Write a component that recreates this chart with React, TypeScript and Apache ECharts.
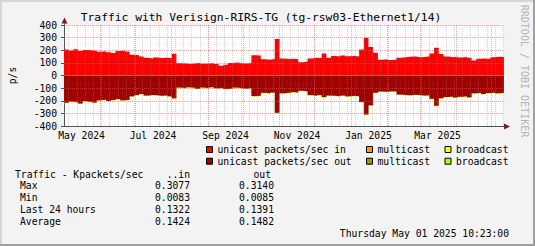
import React, { useEffect, useRef } from "react";
import * as echarts from "echarts";

const START = Date.UTC(2024, 4, 1);
const DAY = 86400000;
const STEP_DAYS = 4;
const END_DAYS = 375.7;

const inUnicast = [
  205, 198, 208, 195, 202, 200, 196,
  188, 192, 185, 178,
  195, 198, 190,
  165, 160, 150,
  140, 135, 142, 138, 140, 136,
  172,
  98, 95, 92, 96, 100, 94, 96, 98, 92,
  78, 85,
  100, 102, 98, 96, 100,
  160, 158,
  128, 125, 130,
  290,
  135, 130, 133, 128,
  105, 110,
  135, 140, 138,
  175,
  140,
  155, 150, 158, 152, 155, 150,
  205, 300, 225, 180,
  125, 128, 122, 126,
  140, 145, 148, 150, 145, 147, 150,
  175, 220, 170,
  150, 145, 148, 142, 146, 140,
  118,
  132, 135, 130,
  145, 148, 146,
];
const inMulticast: number[] = [];
const inBroadcast: number[] = [];

const outUnicast = [
  216, 206, 211, 221, 201, 208, 214,
  196, 191, 201, 194, 186, 196, 192,
  164, 155, 146,
  158, 154, 156, 161, 156, 164,
  181,
  96, 101, 94, 98, 104, 96, 100, 94, 101,
  98, 106, 102, 96, 100, 104, 99,
  163, 161,
  136, 141, 134,
  296,
  141, 136, 131, 134,
  121, 124,
  155, 160, 154, 170, 158,
  161, 164, 158, 165, 161, 164,
  210, 309, 235, 136,
  126, 128, 124, 126,
  151, 154, 156, 152, 154, 158, 156,
  185, 240, 181,
  171, 166, 175, 168, 164, 173,
  141, 136, 146, 138, 134, 141, 136,
];
const outMulticast: number[] = [];
const outBroadcast = [
  4, 5, 4, 3, 5, 4, 4,
  5, 4, 3, 4, 5, 4, 4,
  6, 5, 4,
  4, 4, 5, 4, 4, 4,
  5,
  4, 4, 5, 4, 4, 4, 5, 4, 4,
  4, 4, 4, 5, 4, 4, 4,
  5, 4,
  4, 4, 4,
  5,
  4, 4, 4, 4,
  4, 4,
  5, 4, 5, 6, 4,
  4, 5, 4, 5, 4, 4,
  5, 6, 5, 4,
  4, 4, 4, 4,
  4, 4, 5, 4, 4, 4, 4,
  5, 6, 4,
  4, 5, 4, 4, 4, 5,
  4, 4, 4, 4, 4, 4, 4,
];

const monthStarts = [
  "2024-06-01", "2024-07-01", "2024-08-01", "2024-09-01", "2024-10-01",
  "2024-11-01", "2024-12-01", "2025-01-01", "2025-02-01", "2025-03-01",
  "2025-04-01", "2025-05-01",
];
const firstWeekLine = "2024-05-05";
const xLabelTexts = ["May 2024", "Jul 2024", "Sep 2024", "Nov 2024", "Jan 2025", "Mar 2025"];
const xLabelDates = ["2024-05-16", "2024-07-16", "2024-09-16", "2024-11-16", "2025-01-16", "2025-03-16"];
const yGridValues = [-300, -200, -100, 0, 100, 200, 300, 400];

const legendNames = [
  "unicast packets/sec in", "multicast in", "broadcast in",
  "unicast packets/sec out", "multicast out", "broadcast out",
];
const legendLabels = [
  "unicast packets/sec in", "multicast", "broadcast",
  "unicast packets/sec out", "multicast", "broadcast",
];
const seriesColors = ["#FF0000", "#FF9900", "#FFFF00", "#A00000", "#999900", "#AAFF00"];

const statsTitle = "Traffic - Kpackets/sec";
const statsHeadIn = "..in";
const statsHeadOut = "out";
const statsRows = ["Max", "Min", "Last 24 hours", "Average"];
const statsIn = ["0.3077", "0.0083", "0.1322", "0.1424"];
const statsOut = ["0.3140", "0.0085", "0.1391", "0.1482"];
const stamp = "Thursday May 01 2025 10:23:00";
const title = "Traffic with Verisign-RIRS-TG (tg-rsw03-Ethernet1/14)";
const watermark = "RRDTOOL / TOBI OETIKER";

const MONO = '"DejaVu Sans Mono", monospace';
const FS = 9.7;

const dayOf = (s: string) => (Date.parse(s + "T00:00:00Z") - START) / DAY;

// cumulative stacking (drawn back to front so each layer shows its own band)
const cumulate = (layers: number[][]) => {
  const out: number[][] = [];
  let acc: number[] | null = null;
  layers.forEach((l) => {
    if (!l.length) {
      out.push(acc ? acc.slice() : []);
      return;
    }
    acc = acc ? acc.map((v, i) => v + (l[i] || 0)) : l.slice();
    out.push(acc.slice());
  });
  return out;
};

const toPairs = (arr: number[], sign: number) => {
  if (!arr.length) return [];
  const pts = arr.map((v, i) => [i * STEP_DAYS, sign * v]);
  pts.push([END_DAYS, sign * arr[arr.length - 1]]);
  return pts;
};

export default function App() {
  const ref = useRef<HTMLDivElement>(null);
  useEffect(() => {
    if (!ref.current) return;
    const chart = echarts.init(ref.current, null, { renderer: "svg" });

    const inStack = cumulate([inUnicast, inMulticast, inBroadcast]);
    const outStack = cumulate([outUnicast, outMulticast, outBroadcast]);
    const rawLayers = [inUnicast, inMulticast, inBroadcast, outUnicast, outMulticast, outBroadcast];
    const stacked = [
      toPairs(inStack[0], 1), toPairs(inMulticast.length ? inStack[1] : [], 1), toPairs(inBroadcast.length ? inStack[2] : [], 1),
      toPairs(outStack[0], -1), toPairs(outMulticast.length ? outStack[1] : [], -1), toPairs(outBroadcast.length ? outStack[2] : [], -1),
    ];

    const minorC = "rgba(140,140,140,0.38)";
    const majorC = "rgba(235,90,90,0.55)";
    const gridLines: any[] = [];
    for (let d = dayOf(firstWeekLine); d < END_DAYS; d += 7) {
      gridLines.push({ xAxis: d, lineStyle: { color: minorC, type: [1, 1], width: 1 } });
    }
    monthStarts.forEach((s) => {
      const d = dayOf(s);
      if (d < END_DAYS) gridLines.push({ xAxis: d, lineStyle: { color: majorC, type: [1, 1], width: 1 } });
    });
    yGridValues.forEach((v) => gridLines.push({ yAxis: v, lineStyle: { color: majorC, type: [1, 1], width: 1 } }));

    const labelDays = xLabelDates.map(dayOf);

    // draw outermost layers first
    const drawOrder = [2, 1, 0, 5, 4, 3];
    const series: any[] = drawOrder.map((k) => ({
      name: legendNames[k],
      type: "line",
      step: "end",
      data: rawLayers[k].length ? stacked[k] : [],
      showSymbol: false,
      symbol: "none",
      lineStyle: { width: 0 },
      areaStyle: { color: seriesColors[k], opacity: 1, origin: 0 },
      itemStyle: { color: seriesColors[k] },
      silent: true,
    }));
    series.push({
      name: "grid",
      type: "line",
      data: [],
      silent: true,
      markLine: {
        silent: true,
        symbol: ["none", "none"],
        label: { show: false },
        animation: false,
        data: gridLines,
      },
    });

    const legendPos = [
      [206, 144.5], [366, 144.5], [444.5, 144.5],
      [206, 156.2], [366, 156.2], [444.5, 156.2],
    ];
    const legends = legendNames.map((n, k) => ({
      data: [n],
      left: legendPos[k][0],
      top: legendPos[k][1],
      padding: 0,
      itemWidth: 6,
      itemHeight: 6,
      icon: "rect",
      selectedMode: false,
      itemStyle: { borderColor: "#000", borderWidth: 1 },
      textStyle: { fontFamily: MONO, fontSize: FS, color: "#000" },
      formatter: () => legendLabels[k],
    }));

    const txt = (text: string, x: number, y: number, align = "left", extra: any = {}) => ({
      type: "text",
      x,
      y,
      silent: true,
      ...extra,
      style: {
        text,
        fontFamily: MONO,
        fontSize: extra.fontSize || FS,
        fill: extra.fill || "#000",
        textAlign: align,
        textVerticalAlign: "middle",
      },
    });

    const graphic: any[] = [
      { type: "rect", shape: { x: 0, y: 0, width: 535, height: 2 }, style: { fill: "#d6d6d6" }, silent: true },
      { type: "rect", shape: { x: 0, y: 0, width: 2, height: 246 }, style: { fill: "#d6d6d6" }, silent: true },
      { type: "rect", shape: { x: 533, y: 0, width: 2, height: 246 }, style: { fill: "#a0a0a0" }, silent: true },
      { type: "rect", shape: { x: 0, y: 244, width: 535, height: 2 }, style: { fill: "#a0a0a0" }, silent: true },
      { type: "line", shape: { x1: 64.5, y1: 25, x2: 64.5, y2: 21 }, style: { stroke: "#555", lineWidth: 1 }, silent: true },
      { type: "polygon", shape: { points: [[61.5, 23.5], [67.5, 23.5], [64.5, 17.5]] }, style: { fill: "#7a1a1a" }, silent: true },
      { type: "line", shape: { x1: 504, y1: 126.5, x2: 506, y2: 126.5 }, style: { stroke: "#555", lineWidth: 1 }, silent: true },
      { type: "polygon", shape: { points: [[504, 123.5], [504, 129.5], [510, 126.5]] }, style: { fill: "#7a1a1a" }, silent: true },
      txt(title, 261, 17, "center", { fontSize: 11.3 }),
      txt("p/s", 12, 75.5, "center", { rotation: Math.PI / 2 }),
      txt(watermark, 524, 71, "center", { rotation: -Math.PI / 2, fill: "#b4b4b4", fontSize: 10 }),
      txt(statsTitle, 15, 174),
      txt(statsHeadIn, 190, 174, "right"),
      txt(statsHeadOut, 271, 174, "right"),
      ...statsRows.map((r, i) => txt(r, 20, 185.7 + i * 11.85)),
      ...statsIn.map((v, i) => txt(v, 190, 185.7 + i * 11.85, "right")),
      ...statsOut.map((v, i) => txt(v, 274, 185.7 + i * 11.85, "right")),
      txt(stamp, 509, 233.3, "right"),
    ];

    chart.setOption({
      animation: false,
      backgroundColor: "#f3f3f3",
      grid: { left: 64, right: 31, top: 25, bottom: 120, show: true, backgroundColor: "#ffffff", borderWidth: 0 },
      legend: legends,
      xAxis: {
        type: "value",
        min: 0,
        max: END_DAYS,
        axisLine: { show: true, onZero: false, lineStyle: { color: "#555", width: 1 } },
        axisTick: { show: false },
        splitLine: { show: false },
        axisLabel: {
          customValues: labelDays,
          formatter: (v: number) => {
            const idx = labelDays.findIndex((d) => Math.abs(d - v) < 0.01);
            return idx >= 0 ? xLabelTexts[idx] : "";
          },
          fontFamily: MONO,
          fontSize: FS,
          color: "#000",
          margin: 4,
          hideOverlap: false,
        },
      },
      yAxis: {
        type: "value",
        min: -400,
        max: 400,
        interval: 100,
        axisLine: { show: true, lineStyle: { color: "#555", width: 1 } },
        axisTick: { show: true, length: 3, lineStyle: { color: "#555" } },
        splitLine: { show: false },
        axisLabel: { fontFamily: MONO, fontSize: FS, color: "#000", margin: 7 },
      },
      series,
      graphic,
    });
    return () => chart.dispose();
  }, []);
  return <div ref={ref} style={{ position: "absolute", left: 0, top: 0, width: 535, height: 246 }} />;
}
